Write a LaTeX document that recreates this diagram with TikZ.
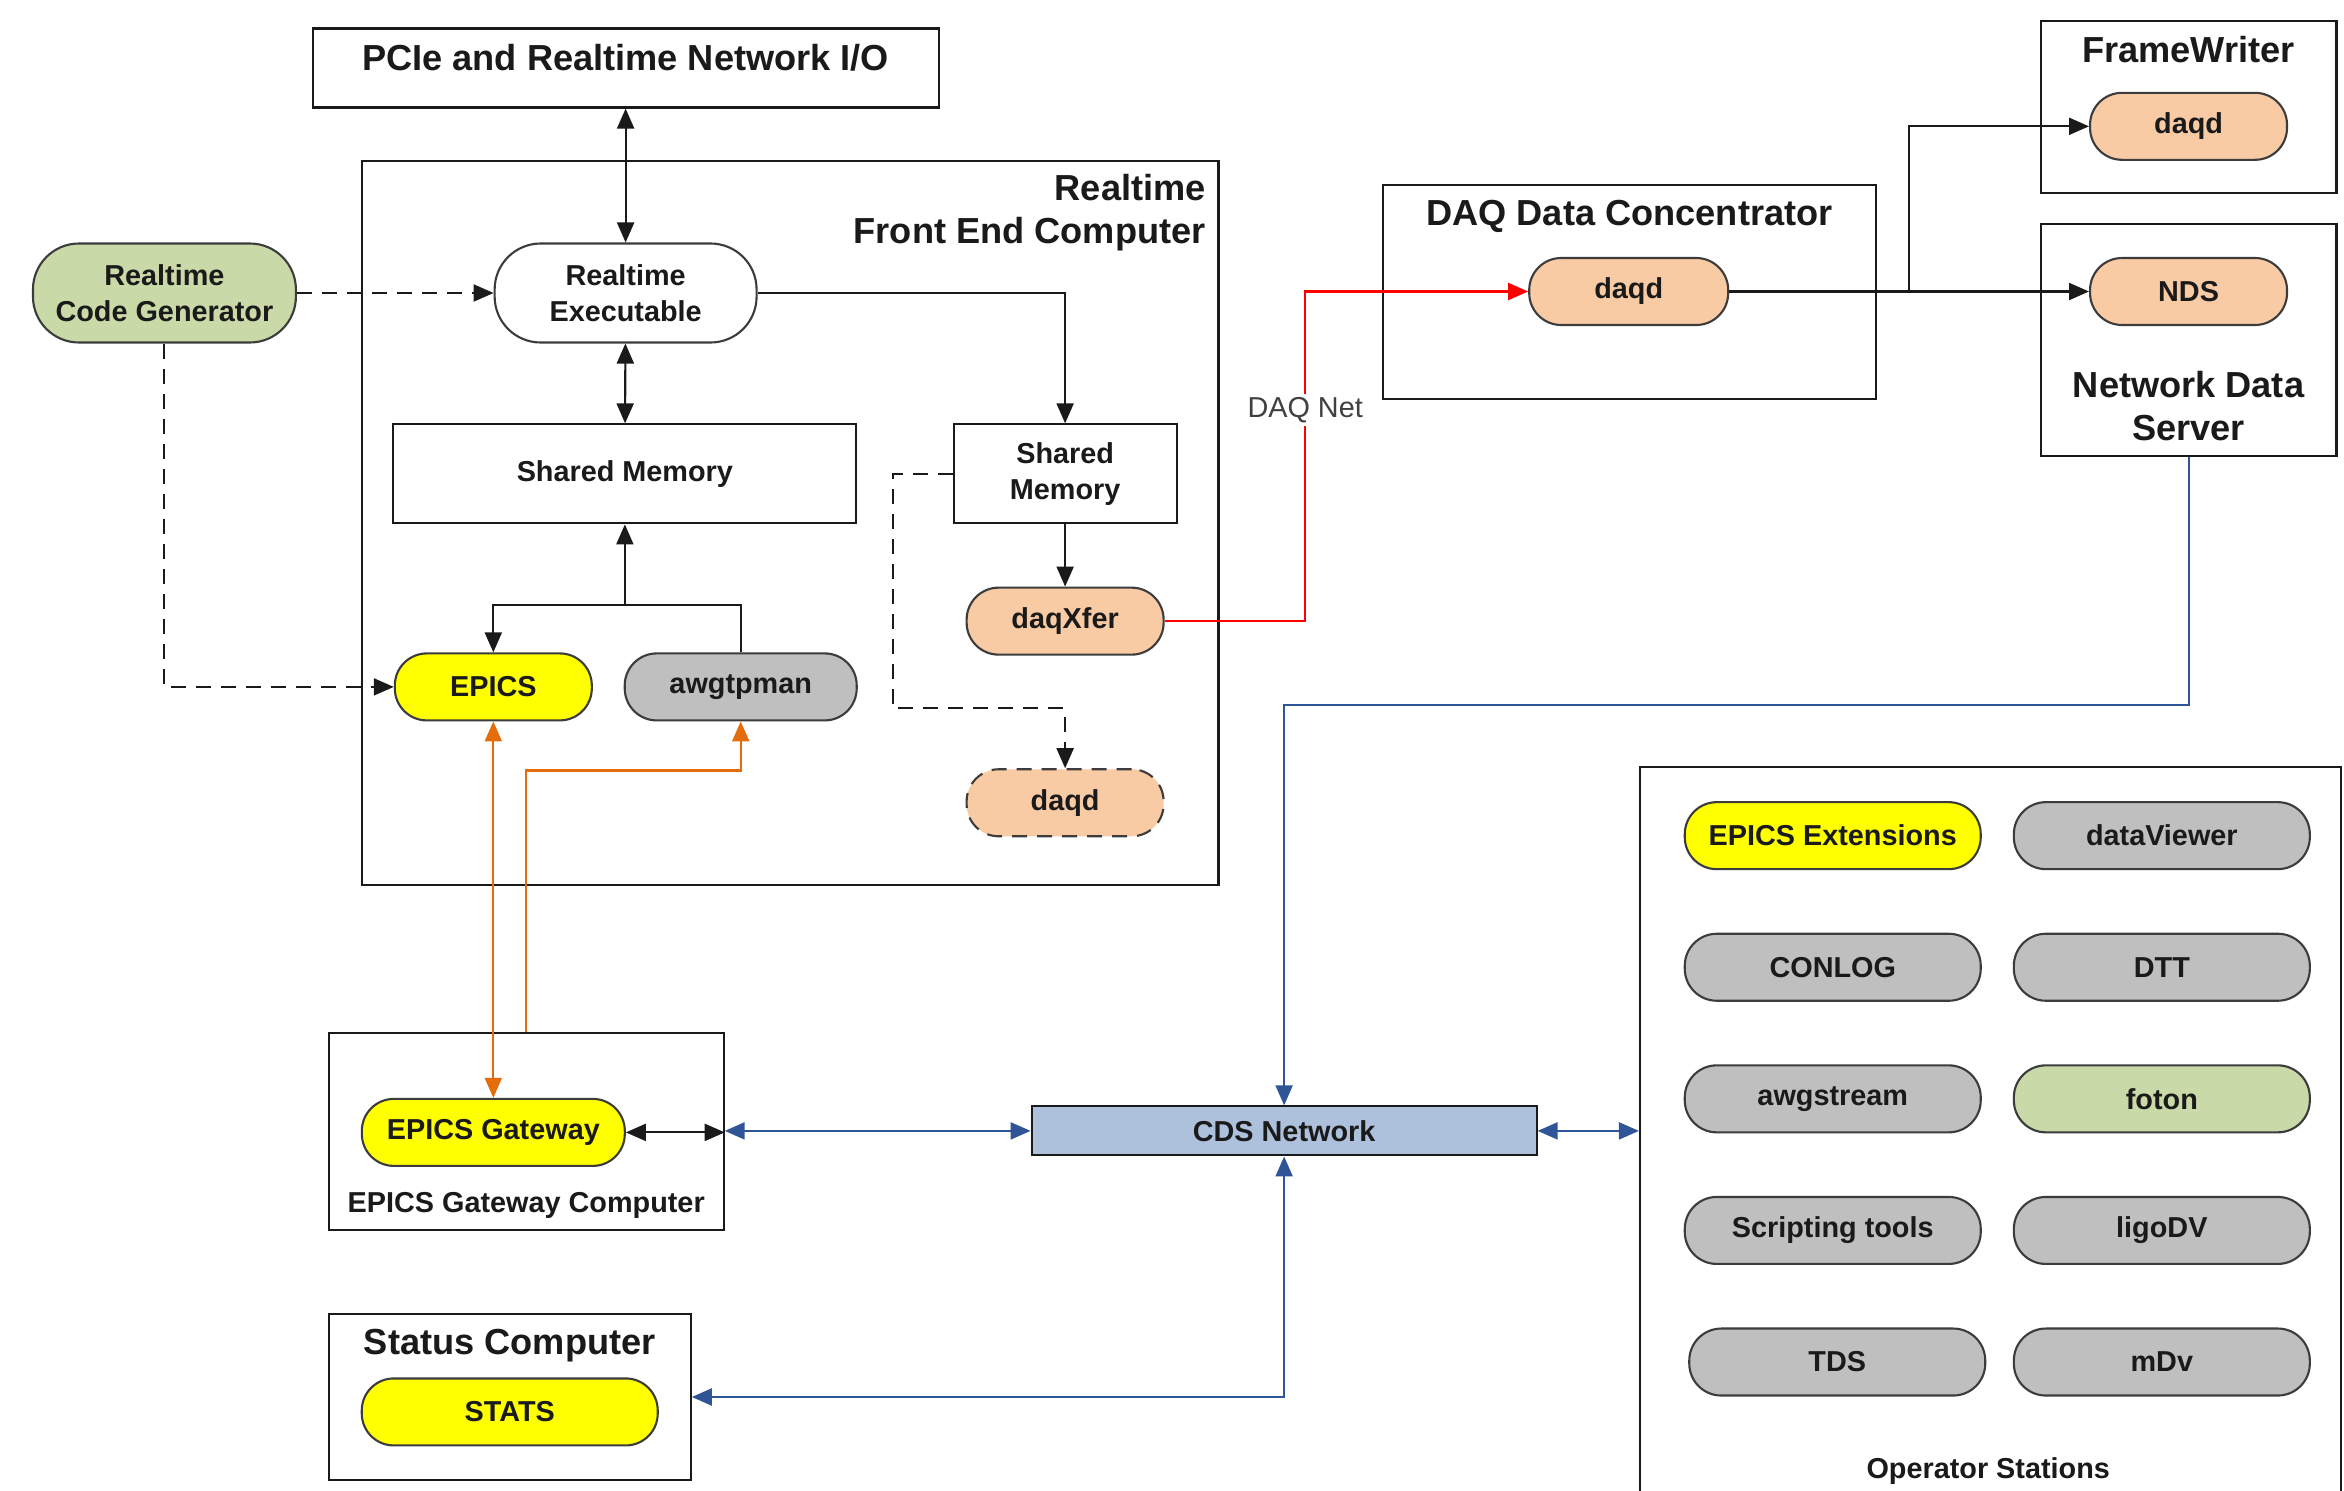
\documentclass[tikz,border=0pt]{standalone}
\usepackage{fontspec}
\setmainfont{Liberation Sans}
\usetikzlibrary{arrows.meta,positioning,calc}
\definecolor{ink}{HTML}{1A1A1A}
\definecolor{gencol}{HTML}{C9DAA8}
\definecolor{daqcol}{HTML}{F9CBA5}
\definecolor{epicscol}{HTML}{FFFF00}
\definecolor{toolcol}{HTML}{BFBFBF}
\definecolor{cdscol}{HTML}{ADC1DD}
\definecolor{cdsblue}{HTML}{2F5597}
\definecolor{epicsorange}{HTML}{E46C0A}
\definecolor{netred}{HTML}{FF0000}
\definecolor{netgray}{HTML}{404040}
\tikzset{
  >={Triangle[length=2mm,width=1.7mm]},
  every node/.style={text=ink},
  box/.style={draw=ink,line width=0.6pt,fill=white,inner sep=0pt,align=center,font=\fontsize{8.2}{10.2}\selectfont\bfseries},
  hdr/.style={font=\fontsize{10.3}{12.3}\selectfont\bfseries,text=ink,align=center},
  sublbl/.style={font=\fontsize{8.2}{10.2}\selectfont\bfseries,text=ink,align=center},
  pill/.style={draw=ink!85,line width=0.6pt,rounded corners=3.2mm,fill=white,minimum width=19.7mm,minimum height=6.7mm,align=center,inner sep=1pt,font=\fontsize{8.2}{10.2}\selectfont\bfseries},
  tallpill/.style={pill,minimum height=9.9mm,rounded corners=4.6mm},
  genpill/.style={tallpill,fill=gencol},
  daqpill/.style={pill,fill=daqcol},
  epicspill/.style={pill,fill=epicscol},
  toolpill/.style={pill,fill=toolcol,minimum width=29.6mm},
  netbox/.style={draw=ink,line width=0.6pt,fill=cdscol,minimum width=50.5mm,minimum height=4.9mm,inner sep=0pt,font=\fontsize{8.2}{10.2}\selectfont\bfseries},
  arrow/.style={->,line width=0.6pt,draw=ink},
  dblarrow/.style={<->,line width=0.6pt,draw=ink},
  dasharrow/.style={->,line width=0.6pt,draw=ink,dash pattern=on 1.5mm off 1mm},
  daqnet/.style={->,line width=0.6pt,draw=netred},
  cdsarr/.style={->,line width=0.6pt,draw=cdsblue},
  cdsdbl/.style={<->,line width=0.6pt,draw=cdsblue},
  epicsarr/.style={->,line width=0.6pt,draw=epicsorange},
  epicsdbl/.style={<->,line width=0.6pt,draw=epicsorange},
  netlbl/.style={font=\fontsize{8.2}{10}\selectfont,text=netgray,fill=white,inner sep=1pt},
}

\begin{document}
\begin{tikzpicture}[x=0.1495mm,y=-0.1495mm]
\useasboundingbox (0,0) rectangle (1568,997.3);

% containers
\node[box,minimum width=62.6mm,minimum height=7.9mm,label={[hdr,anchor=north,label distance=-0.4mm]north:PCIe and Realtime Network I/O}] (pcie) at (418.5,45.5) {};
\node[box,minimum width=85.7mm,minimum height=72.4mm,label={[hdr,align=right,anchor=north east,label distance=-0.2mm]north east:Realtime\\Front End Computer}] (fe) at (528.5,350) {};
\node[box,minimum width=49.3mm,minimum height=21.4mm,label={[hdr,anchor=north,label distance=-0.4mm]north:DAQ Data Concentrator}] (conc) at (1090,195.5) {};
\node[box,minimum width=29.6mm,minimum height=17.2mm,label={[hdr,anchor=north,label distance=-0.4mm]north:FrameWriter}] (fw) at (1464,71.5) {};
\node[box,minimum width=29.6mm,minimum height=23.2mm,label={[hdr,anchor=south,label distance=-0.4mm]south:Network Data\\Server}] (ndsbox) at (1464,227.5) {};
\node[box,minimum width=39.5mm,minimum height=19.7mm,label={[sublbl,anchor=south]south:EPICS Gateway Computer}] (gwbox) at (352,757) {};
\node[box,minimum width=36.2mm,minimum height=16.6mm,label={[hdr,anchor=north,label distance=-0.4mm]north:Status Computer}] (statbox) at (341,934.5) {};
\node[box,minimum width=70.1mm,minimum height=74.3mm] (opbox) at (1331.5,761.5) {};
\node[sublbl] (oplbl) at (1330,984) {Operator Stations};

% front end
\node[genpill,minimum width=26.3mm] (gen) at (110,196) {Realtime\\Code Generator};
\node[tallpill,minimum width=26.2mm] (rtexe) at (418.5,196) {Realtime\\Executable};
\node[box,minimum width=46.3mm,minimum height=9.9mm] (shm) at (418,317) {Shared Memory};
\node[box,minimum width=22.3mm,minimum height=9.9mm] (shm2) at (712.5,317) {Shared\\Memory};
\node[daqpill] (daqxfer) at (712.5,415.5) {daqXfer};
\node[epicspill] (epics) at (330,459.5) {EPICS};
\node[pill,fill=toolcol,minimum width=23.2mm] (awg) at (495.5,459.5) {awgtpman};
\node[daqpill,dash pattern=on 1.5mm off 1mm] (fedaqd) at (712.5,537) {daqd};

% daq chain
\node[daqpill,minimum width=19.9mm] (cdaqd) at (1089.5,195) {daqd};
\node[daqpill] (fwdaqd) at (1464,84.5) {daqd};
\node[daqpill] (nds) at (1464,195) {NDS};

% gateway, status, network
\node[epicspill,minimum width=26.3mm] (gw) at (330,757.5) {EPICS Gateway};
\node[epicspill,minimum width=29.6mm] (stats) at (341,944.5) {STATS};
\node[netbox] (cds) at (859,756.5) {CDS Network};

% operator stations
\node[toolpill,fill=epicscol] (opepx) at (1226,559) {EPICS Extensions};
\node[toolpill,right=3.1mm of opepx] (opdv) {dataViewer};
\node[toolpill,below=6.25mm of opepx] (opcon) {CONLOG};
\node[toolpill,below=6.25mm of opdv] (opdtt) {DTT};
\node[toolpill,below=6.25mm of opcon] (opawg) {awgstream};
\node[toolpill,fill=gencol,below=6.25mm of opdtt] (opfot) {foton};
\node[toolpill,below=6.25mm of opawg] (opscr) {Scripting tools};
\node[toolpill,below=6.25mm of opfot] (oplig) {ligoDV};
\node[toolpill,below=6.25mm of opscr,xshift=0.45mm] (optds) {TDS};
\node[toolpill,below=6.25mm of oplig] (opmdv) {mDv};

% front end links
\draw[dblarrow] (pcie) -- (rtexe);
\draw[dblarrow] (rtexe) -- (shm);
\draw[arrow] (rtexe.east) -| (shm2.north);
\draw[arrow] (shm2) -- (daqxfer);
\draw[dasharrow] (shm2.west) -- ++(-40,0) |- ($(fedaqd.north)+(0,-40)$) -- (fedaqd.north);
\coordinate (shmjoin) at (418,405);
\draw[arrow] (awg.north) |- (shmjoin) -| (epics.north);
\draw[arrow] (shmjoin) -- (shm.south);
\draw[dasharrow] (gen.east) -- (rtexe.west);
\draw[dasharrow] (gen.south) |- (epics.west);

% daq net
\draw[daqnet] (daqxfer.east) -- ++(94,0) |- node[netlbl,pos=0.32]{DAQ Net} (cdaqd.west);
\draw[arrow] (cdaqd.east) -- (nds.west);
\coordinate (fwsplit) at (1277,195);
\draw[arrow] (fwsplit) |- (fwdaqd.west);

% epics links
\draw[epicsdbl] (epics.south) -- (gw.north);
\draw[epicsarr] (gwbox.north) -- ++(0,-175) -| (awg.south);
\draw[dblarrow] (gw.east) -- (gwbox.east |- gw.east);

% cds network
\draw[cdsarr] (ndsbox.south) -- ++(0,166) -| (cds.north);
\draw[cdsdbl] (gwbox.east |- cds.west) -- (cds.west);
\draw[cdsdbl] (cds.east) -- (opbox.west |- cds.east);
\draw[cdsdbl] (cds.south) |- (statbox.east);

\end{tikzpicture}
\end{document}
